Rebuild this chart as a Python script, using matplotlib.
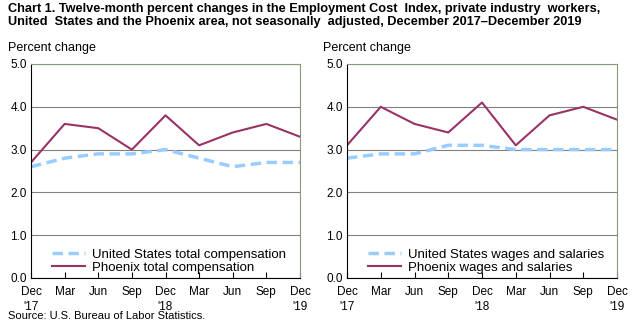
import matplotlib.pyplot as plt
from matplotlib import font_manager

names = {f.name for f in font_manager.fontManager.ttflist}
base_font = "Liberation Sans Narrow" if "Liberation Sans Narrow" in names else "Liberation Sans"
plt.rcParams["font.family"] = [base_font, "DejaVu Sans"]

quarters = ["Dec\n'17", "Mar", "Jun", "Sep", "Dec\n'18", "Mar", "Jun", "Sep", "Dec\n'19"]

us_total = [2.6, 2.8, 2.9, 2.9, 3.0, 2.8, 2.6, 2.7, 2.7]
phx_total = [2.7, 3.6, 3.5, 3.0, 3.8, 3.1, 3.4, 3.6, 3.3]
us_wages = [2.8, 2.9, 2.9, 3.1, 3.1, 3.0, 3.0, 3.0, 3.0]
phx_wages = [3.1, 4.0, 3.6, 3.4, 4.1, 3.1, 3.8, 4.0, 3.7]

panels = [
    (us_total, phx_total, "United States total compensation", "Phoenix total compensation"),
    (us_wages, phx_wages, "United States wages and salaries", "Phoenix wages and salaries"),
]

W, H = 638, 328
fig = plt.figure(figsize=(W / 100, H / 100), dpi=100)

boxes = [(31, 64, 300, 278), (347, 64, 617, 278)]
x = list(range(len(quarters)))

for (us, phx, us_lab, phx_lab), (x0, y0, x1, y1) in zip(panels, boxes):
    ax = fig.add_axes([x0 / W, 1 - y1 / H, (x1 - x0) / W, (y1 - y0) / H])
    ax.plot(x, us, color="#99ccff", lw=2.5, ls=(0, (3, 1.6)), label=us_lab)
    ax.plot(x, phx, color="#993366", lw=1.5, label=phx_lab)
    ax.set_xlim(0, 8)
    ax.set_ylim(0, 5)
    ax.set_yticks([0, 1, 2, 3, 4, 5])
    ax.set_yticklabels([f"{v:.1f}" for v in range(6)])
    ax.set_xticks(x)
    ax.set_xticklabels(quarters, linespacing=1.25)
    ax.tick_params(axis="x", direction="in", length=4, labelsize=8.5, pad=6)
    ax.tick_params(axis="y", length=0, labelsize=8.5, pad=3)
    ax.grid(axis="y", color="#808080", lw=0.8)
    ax.set_axisbelow(True)
    ax.spines["left"].set_color("black")
    ax.spines["bottom"].set_color("black")
    ax.spines["top"].set_color("#8a9a7a")
    ax.spines["right"].set_color("#8a9a7a")
    ax.legend(loc="lower left", bbox_to_anchor=(0.045, -0.025), frameon=False,
              fontsize=9.5, handlelength=2.5, handletextpad=0.5,
              labelspacing=0.1, borderaxespad=0.3)

fig.text(8 / W, 1 - 3 / H,
         "Chart 1. Twelve-month percent changes in the Employment Cost  Index, private industry  workers,\n"
         "United  States and the Phoenix area, not seasonally  adjusted, December 2017\u2013December 2019",
         ha="left", va="top", fontsize=9.2, fontweight="bold", linespacing=1.1)
fig.text(8 / W, 1 - 42 / H, "Percent change", ha="left", va="top", fontsize=9)
fig.text(323 / W, 1 - 42 / H, "Percent change", ha="left", va="top", fontsize=9)
fig.text(8 / W, 1 - 311 / H, "Source: U.S. Bureau of Labor Statistics.", ha="left", va="top", fontsize=8)

fig.savefig("out.png", dpi=100)
